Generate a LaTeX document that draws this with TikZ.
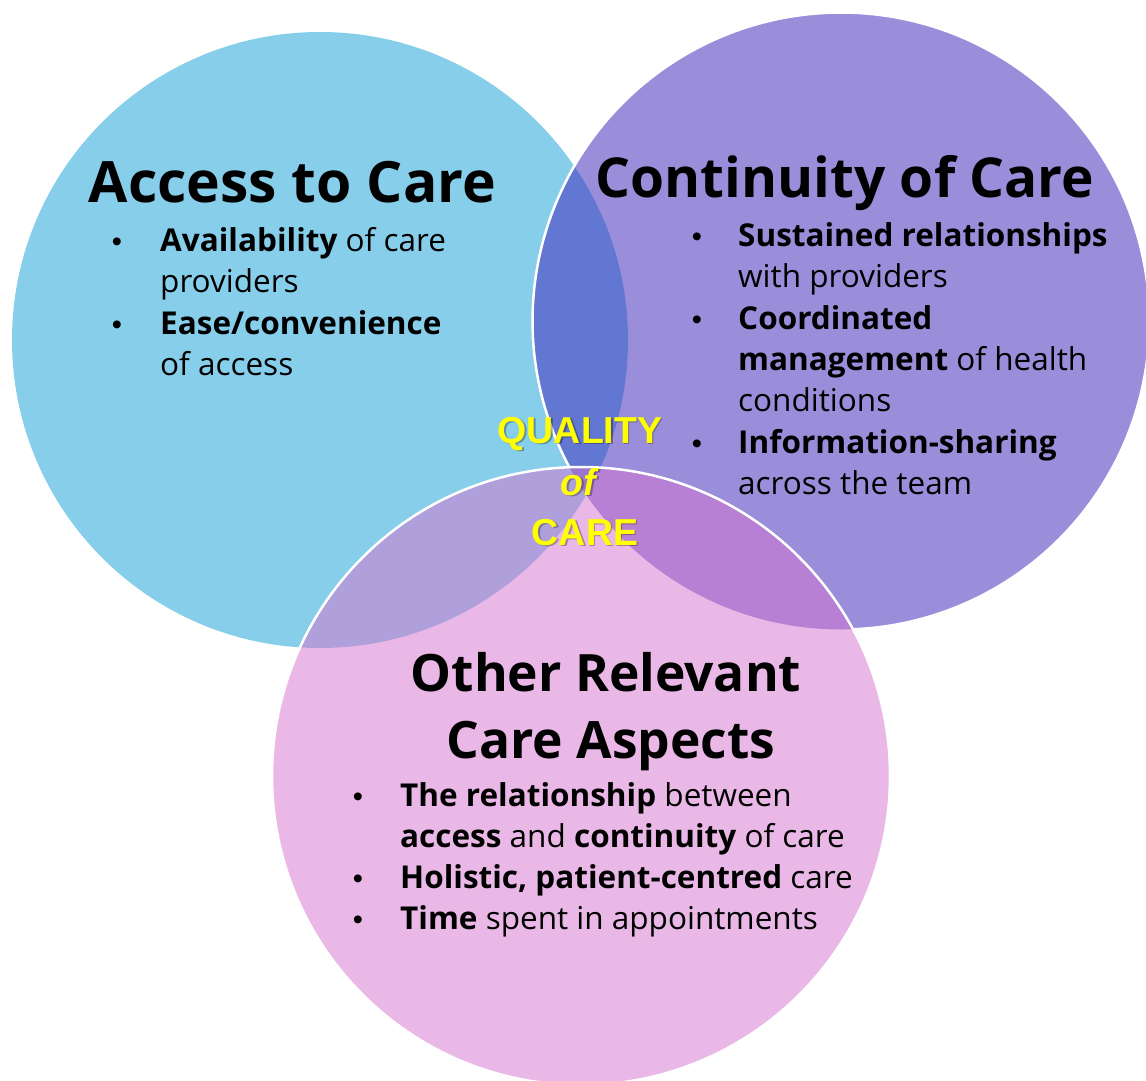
\documentclass[tikz,border=0pt]{standalone}
\usepackage{fontspec}
\setmainfont{Open Sans}
\newfontfamily\arialfont{Liberation Sans}
\definecolor{accessblue}{RGB}{135,206,235}
\definecolor{contpurple}{RGB}{63,40,186}
\definecolor{otherpink}{RGB}{215,115,207}
\definecolor{qualyellow}{RGB}{255,255,0}
\begin{document}
\begin{tikzpicture}[x=1pt,y=-1pt,
  heading/.style={font=\bfseries\fontsize{#1}{60}\selectfont, anchor=base, inner sep=0pt},
  body/.style={font=\fontsize{31.5}{38}\selectfont, anchor=base west, inner sep=0pt},
  dot/.style={font=\arialfont\fontsize{29}{34}\selectfont, anchor=base, inner sep=0pt},
  quality/.style={font=\arialfont\bfseries\fontsize{37.5}{40}\selectfont, text=qualyellow, anchor=base, inner sep=0pt},
  qshadow/.style={quality, text=black, text opacity=0.3},
  rim/.style={white, line width=2.5pt}
]
\useasboundingbox (0,0) rectangle (1146,1081);
\fill[white] (0,0) rectangle (1146,1081);

% circle centres
\coordinate (cA) at (320,340);
\coordinate (cC) at (841,321);
\coordinate (cO) at (581,776);

% Access to Care
\fill[accessblue] (cA) circle[radius=308pt];
% Continuity of Care
\fill[contpurple, fill opacity=0.52] (cC) circle[radius=308.5pt];
% rim of the continuity circle, left open where the third circle covers it
\draw[rim] plot[domain=151.7:447.8, samples=300, smooth] ({841+308.5*cos(\x)},{321+308.5*sin(\x)});
% Other relevant care aspects
\fill[otherpink, fill opacity=0.5] (cO) circle[radius=309pt];
\draw[rim] (cO) circle[radius=309pt];

% headings
\node[heading=57] (tA) at (292.5,202) {Access to Care};
\node[heading=55] (tC) at (845,197) {Continuity of Care};
\node[heading=51.5] (tO1) at (606,691) {Other Relevant};
\node[heading=51.5] (tO2) at (611,758) {Care Aspects};

% access items
\node[dot] (bA1) at (117,251) {•};
\node[body] (lA1) at (160,251) {\textbf{Availability} of care};
\node[body] (lA2) at (160,292.5) {providers};
\node[dot] (bA2) at (117,334) {•};
\node[body] (lA3) at (160,334) {\textbf{Ease/convenience}};
\node[body] (lA4) at (160,375) {of access};

% continuity items
\node[dot] (bC1) at (697,246.5) {•};
\node[body] (lC1) at (738,246.5) {\textbf{Sustained relationships}};
\node[body] (lC2) at (738,287.5) {with providers};
\node[dot] (bC2) at (697,329.5) {•};
\node[body] (lC3) at (738,329.5) {\textbf{Coordinated}};
\node[body] (lC4) at (738,370.5) {\textbf{management} of health};
\node[body] (lC5) at (738,411.5) {conditions};
\node[dot] (bC3) at (697,453.5) {•};
\node[body] (lC6) at (738,453.5) {\textbf{Information-sharing}};
\node[body] (lC7) at (738,494.5) {across the team};

% other aspects items
\node[dot] (bO1) at (358,806) {•};
\node[body] (lO1) at (400,806) {\textbf{The relationship} between};
\node[body] (lO2) at (400,847) {\textbf{access} and \textbf{continuity} of care};
\node[dot] (bO2) at (358,888) {•};
\node[body] (lO3) at (400,888) {\textbf{Holistic, patient-centred} care};
\node[dot] (bO3) at (358,929) {•};
\node[body] (lO4) at (400,929) {\textbf{Time} spent in appointments};

% centre label with soft shadow
\node[qshadow] (sQ1) at (581.5,444.5) {QUALITY};
\node[qshadow] (sQ2) at (581.5,496.5) {\textit{of}};
\node[qshadow] (sQ3) at (586.5,546.5) {CARE};
\node[quality] (q1) at (580,443) {QUALITY};
\node[quality] (q2) at (580,495) {\textit{of}};
\node[quality] (q3) at (585,545) {CARE};
\end{tikzpicture}
\end{document}
